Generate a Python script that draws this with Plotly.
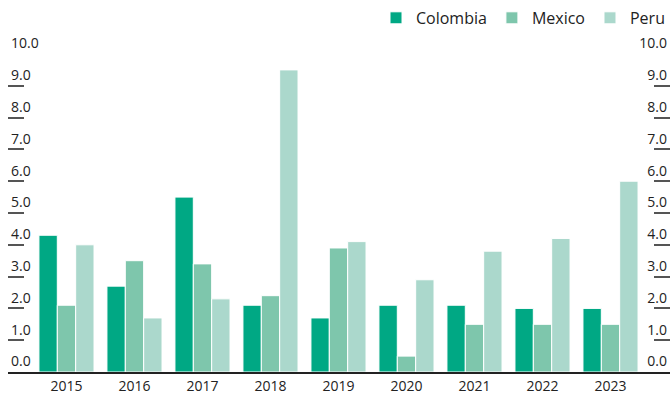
import plotly.graph_objects as go

years = ["2015", "2016", "2017", "2018", "2019", "2020", "2021", "2022", "2023"]
colombia = [4.3, 2.7, 5.5, 2.1, 1.7, 2.1, 2.1, 2.0, 2.0]
mexico = [2.1, 3.5, 3.4, 2.4, 3.9, 0.5, 1.5, 1.5, 1.5]
peru = [4.0, 1.7, 2.3, 9.5, 4.1, 2.9, 3.8, 4.2, 6.0]
series_names = ["Colombia", "Mexico", "Peru"]
series_colors = ["#00A884", "#7EC6AC", "#ABD8CC"]
tick_vals = [0, 1, 2, 3, 4, 5, 6, 7, 8, 9, 10]
tick_text = [f"{v:.1f}" for v in tick_vals]

FONT = "Open Sans, Noto Sans, sans-serif"
TXT = "#222222"

fig = go.Figure()
for name, vals, col in zip(series_names, [colombia, mexico, peru], series_colors):
    fig.add_trace(go.Bar(
        x=years, y=vals, name=name,
        marker=dict(color=col, line=dict(color="white", width=1)),
    ))
# invisible trace for right axis
fig.add_trace(go.Bar(x=years, y=[None] * len(years), yaxis="y2", showlegend=False,
                     hoverinfo="skip"))

yax = dict(
    range=[0, 10], tickvals=tick_vals, ticktext=tick_text,
    ticks="inside", ticklen=16, tickwidth=1.5, tickcolor="#555555",
    ticklabelposition="inside top", ticklabeloverflow="allow",
    showgrid=False, zeroline=False,
    showline=False, tickfont=dict(family=FONT, size=14, color=TXT),
    fixedrange=True,
)
fig.update_layout(
    width=672, height=398,
    margin=dict(l=8, r=2, t=53, b=26),
    paper_bgcolor="white", plot_bgcolor="white",
    barmode="group", bargap=0.19, bargroupgap=0.0,
    font=dict(family=FONT, size=14, color=TXT),
    xaxis=dict(
        type="category", range=[-0.86, 8.875], showgrid=False,
        showline=True, linecolor="#222222", linewidth=2, ticks="",
        tickfont=dict(family=FONT, size=14, color=TXT),
    ),
    yaxis=dict(**yax, side="left"),
    yaxis2=dict(**yax, side="right", overlaying="y", anchor="x"),
    legend=dict(
        orientation="h", x=1.0, xanchor="right", y=1.11, yanchor="middle",
        font=dict(family=FONT, size=16, color=TXT), traceorder="normal",
        itemwidth=30, bgcolor="rgba(0,0,0,0)",
    ),
    showlegend=True,
)

fig.write_html("out.html")
